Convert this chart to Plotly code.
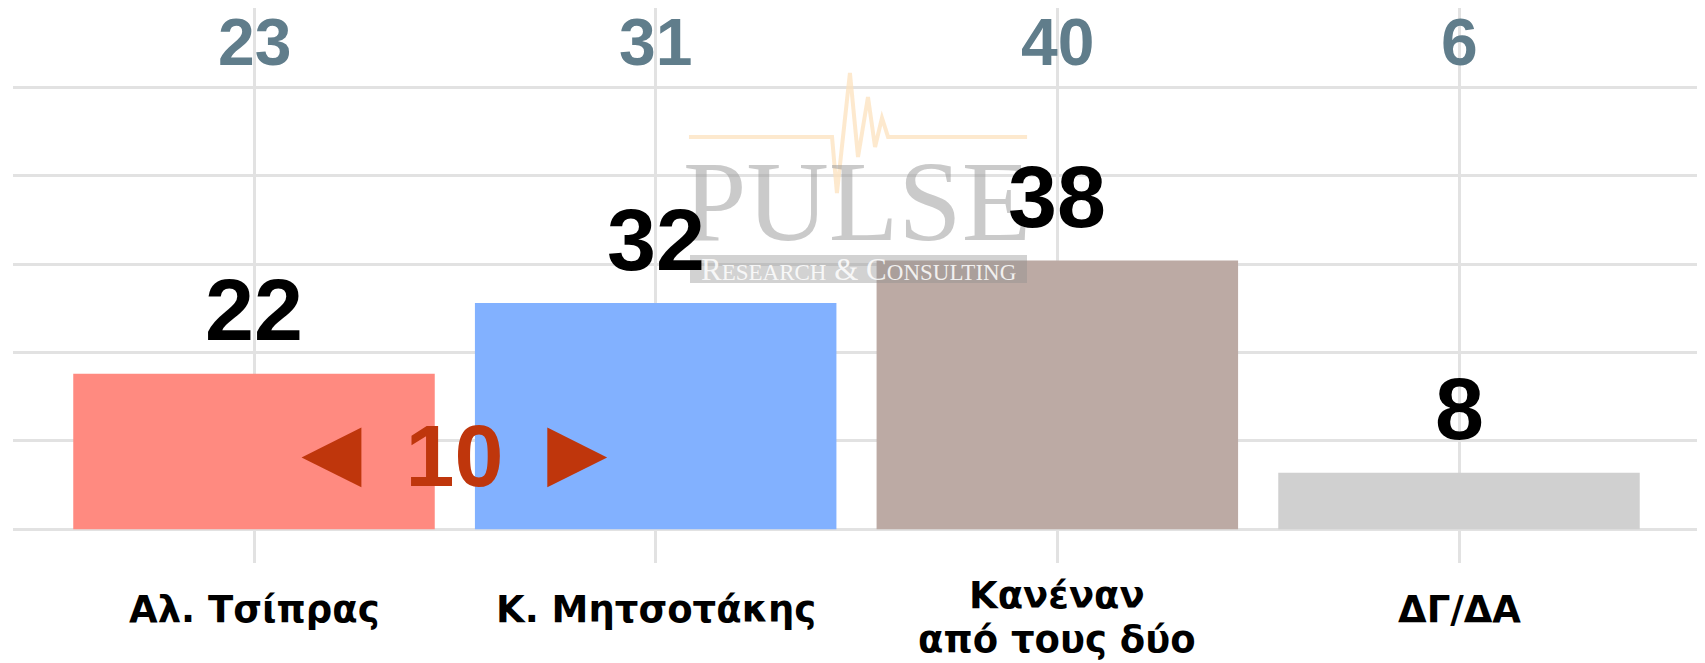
import plotly.graph_objects as go

# ── DATA ─────────────────────────────────────────────
categories = ["Αλ. Τσίπρας", "Κ. Μητσοτάκης", "Κανέναν<br>από τους δύο", "ΔΓ/ΔΑ"]
values     = [22, 32, 38, 8]          # current survey
previous   = [23, 31, 40, 6]          # previous survey (top row)
bar_colors = ["#ff8a80", "#82b1ff", "#bcaaa4", "#d0d0d0"]

# ── LAYOUT CONSTANTS ─────────────────────────────────
# page has an 8px body margin -> figure starts at (8, 8)
OFF = 8
W, H = 1705 - OFF, 663 - OFF
ML, MR, MT, MB = 5, 5, 0, 100
PW, PH = W - ML - MR, H - MT - MB
Y_RANGE = [-4.77, 73.73]
LABEL_OFF = 9.05       # value label centre above bar top (data units)
PREV_Y = 68.95         # row of previous values
BIG = "Liberation Sans, Arial, sans-serif"

def paper(px, py):
    """page pixel -> paper coords"""
    px, py = px - OFF, py - OFF
    return (px - ML) / PW, (MT + PH - py) / PH

fig = go.Figure()
fig.add_trace(go.Bar(
    x=categories, y=values, width=0.9,
    marker=dict(color=bar_colors, line=dict(width=0)),
    hoverinfo="x+y", showlegend=False))

ann = []
# value labels
for c, v in zip(categories, values):
    ann.append(dict(x=c, y=v + LABEL_OFF, xref="x", yref="y", text=f"<b>{v}</b>",
                    showarrow=False, yanchor="middle",
                    font=dict(family=BIG, size=88, color="black")))
# previous values
for c, p in zip(categories, previous):
    ann.append(dict(x=c, y=PREV_Y, xref="x", yref="y", text=f"<b>{p}</b>",
                    showarrow=False, yanchor="middle",
                    font=dict(family=BIG, size=66, color="#607d8b")))
# category labels (one annotation per line, tighter line spacing)
for c in categories:
    lines = c.split("<br>")
    for i, ln in enumerate(lines):
        _, ly = paper(0, 609 - 14 * (len(lines) - 1) + 44 * i)
        ann.append(dict(x=c, y=ly, xref="x", yref="paper", text=f"<b>{ln}</b>",
                        showarrow=False, yanchor="middle",
                        font=dict(family="DejaVu Sans", size=37, color="black")))
# gap between first two
gap = values[1] - values[0]
tri = "<span style='font-size:100px'>{}</span>"
ann.append(dict(x=0.5, y=11.1, xref="x", yref="y",
                text=f"<b>{tri.format('◄')} {gap} {tri.format('►')}</b>",
                showarrow=False, yanchor="middle",
                font=dict(family=BIG, size=88, color="#bf360c")))

# watermark (PULSE logo)
wx, wy = paper(857, 201)
wm = [dict(x=wx, y=wy, xref="paper", yref="paper", text="PULSE", showarrow=False,
           yanchor="middle", font=dict(family="Liberation Serif", size=114,
                                       color="rgba(150,150,150,0.5)"))]
bx, by = paper(858, 269)
wm.append(dict(x=bx, y=by, xref="paper", yref="paper", showarrow=False, yanchor="middle",
               text="R<span style='font-size:23px'>ESEARCH</span> &amp; "
                    "C<span style='font-size:23px'>ONSULTING</span>",
               font=dict(family="Liberation Serif", size=31, color="rgba(255,255,255,0.85)")))

pulse_pts = [(689, 137), (832, 137), (837, 193), (850, 73), (858, 157), (868, 97),
             (875, 147), (882, 118), (888, 137), (1027, 137)]
path = ""
for i, (px, py) in enumerate(pulse_pts):
    a, b = paper(px, py)
    path += ("M" if i == 0 else " L") + f"{a:.4f},{b:.4f}"
x0, y0 = paper(690, 283)
x1, y1 = paper(1027, 255)
shapes = [
    dict(type="path", path=path, xref="paper", yref="paper",
         line=dict(color="rgba(252,226,190,0.75)", width=4)),
    dict(type="rect", x0=x0, y0=y0, x1=x1, y1=y1, xref="paper", yref="paper",
         fillcolor="rgba(142,142,142,0.4)", line=dict(width=0)),
]

fig.update_layout(
    width=W, height=H,
    margin=dict(l=ML, r=MR, t=MT, b=MB),
    paper_bgcolor="white", plot_bgcolor="white",
    annotations=wm + ann, shapes=shapes,
    bargap=0.1,
    xaxis=dict(range=[-0.6, 3.6], showgrid=True, gridcolor="#e2e2e2", gridwidth=3,
               showticklabels=False, ticks="", zeroline=False, showline=False,
               fixedrange=True),
    yaxis=dict(range=Y_RANGE, tick0=0, dtick=12.5, showgrid=True, gridcolor="#e2e2e2",
               gridwidth=3, showticklabels=False, ticks="", zeroline=False,
               showline=False, fixedrange=True),
)
fig.write_html("out.html")
